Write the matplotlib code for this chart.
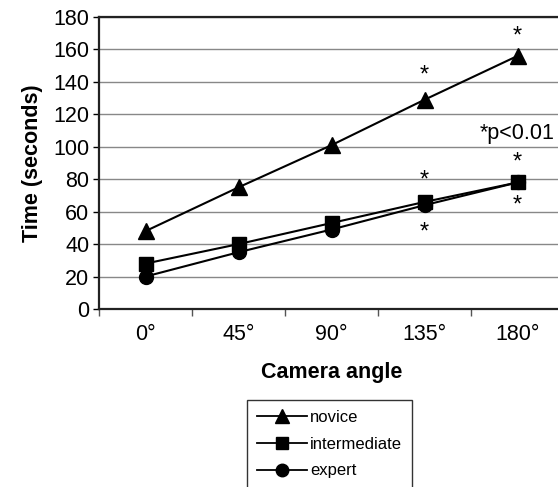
import matplotlib
matplotlib.use("Agg")
import matplotlib.pyplot as plt
from matplotlib.lines import Line2D

plt.rcParams['font.family'] = ['Liberation Sans', 'DejaVu Sans']

angles = ["0°", "45°", "90°", "135°", "180°"]
novice = [48, 75, 101, 129, 156]
intermediate = [28, 40, 53, 66, 78]
expert = [20, 35, 49, 64, 78]
yticks = [0, 20, 40, 60, 80, 100, 120, 140, 160, 180]

W, H = 558, 487
fig = plt.figure(figsize=(W / 100, H / 100), dpi=100)
ax = fig.add_axes([99 / W, (H - 309) / H, 465 / W, 292 / H])

x = list(range(len(angles)))
ax.plot(x, novice, color='black', lw=1.5, marker='^', ms=11, zorder=3)
ax.plot(x, intermediate, color='black', lw=1.5, marker='s', ms=10, zorder=3)
ax.plot(x, expert, color='black', lw=1.5, marker='o', ms=10, zorder=3)

ax.set_xlim(-0.5, len(angles) - 0.5)
ax.set_ylim(0, 180)
ax.set_yticks(yticks)
ax.set_xticks(x)
ax.set_xticklabels(angles)
ax.set_xticks([i - 0.5 for i in range(len(angles) + 1)], minor=True)
ax.tick_params(axis='x', which='major', length=0, pad=11, labelsize=15.5)
ax.tick_params(axis='x', which='minor', length=5, direction='out', width=1, color='#555555')
ax.tick_params(axis='y', length=4, width=1, labelsize=15.5, pad=3)
ax.grid(axis='y', color='#888888', lw=1)
ax.set_axisbelow(True)
for s in ['left', 'bottom', 'top']:
    ax.spines[s].set_linewidth(1.6)
    ax.spines[s].set_color('#222222')
ax.spines['right'].set_visible(False)

ax.set_ylabel("Time (seconds)", fontsize=15.5, fontweight='bold', labelpad=7)
ax.set_xlabel("Camera angle", fontsize=15.5, fontweight='bold', labelpad=12)

# significance asterisks
stars = [(3, novice[3], 15), (4, novice[4], 12),
         (3, intermediate[3], 13), (4, intermediate[4], 12),
         (3, expert[3], -17), (4, expert[4], -14)]
for xi, yv, off in stars:
    ax.text(xi, yv + off, "*", ha='center', va='center', fontsize=17)
ax.text(4.0, 108, "*p<0.01", ha='center', va='center', fontsize=15.5)

handles = [
    Line2D([], [], color='black', lw=1.3, marker='^', ms=10),
    Line2D([], [], color='black', lw=1.3, marker='s', ms=9),
    Line2D([], [], color='black', lw=1.3, marker='o', ms=9),
]
leg = fig.legend(handles, ["novice", "intermediate", "expert"],
                 loc='upper left', bbox_to_anchor=(247 / W, 1 - 400 / H),
                 fontsize=12, frameon=True, fancybox=False,
                 handlelength=3.0, handletextpad=0.2, labelspacing=0.7,
                 borderpad=0.6, borderaxespad=0)
leg.get_frame().set_edgecolor('black')
leg.get_frame().set_linewidth(1.0)

fig.savefig("out.png", dpi=100)
